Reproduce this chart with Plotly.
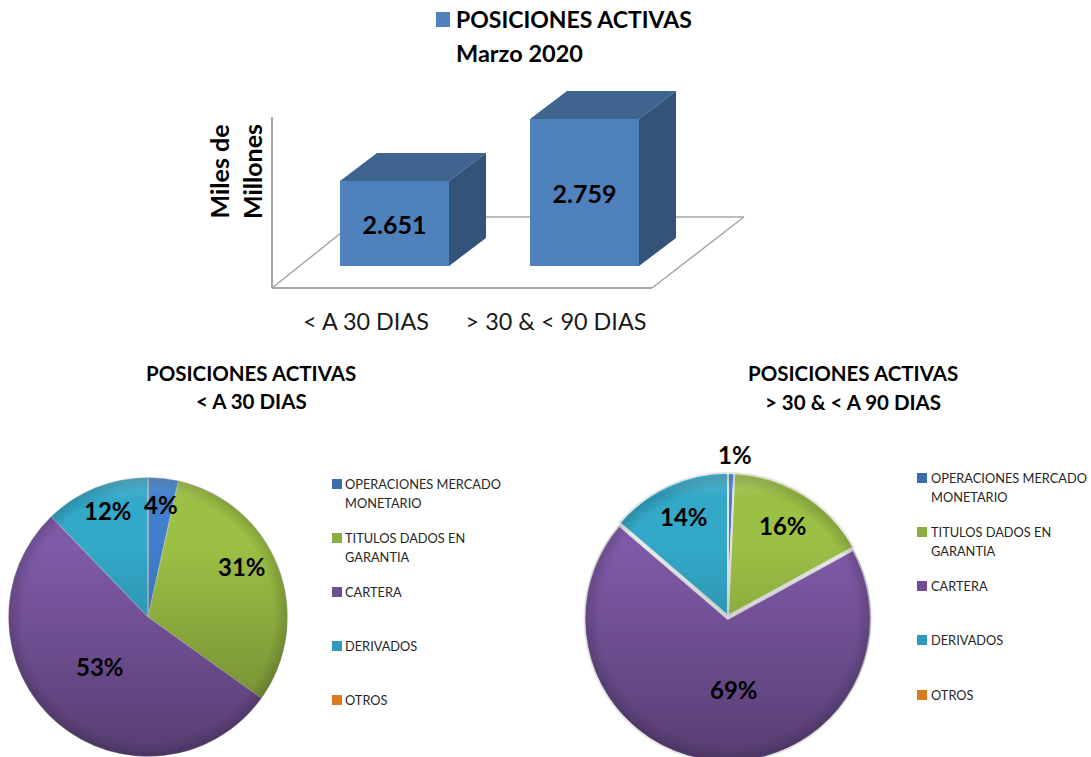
import base64
import plotly.graph_objects as go

# ---------- data ----------
bar_categories = ["< A 30 DIAS", "> 30 & < 90 DIAS"]
bar_values = [2651, 2759]
slice_labels = ["OPERACIONES MERCADO MONETARIO", "TITULOS DADOS EN GARANTIA", "CARTERA", "DERIVADOS", "OTROS"]
left_values = [3.5, 31.4, 52.9, 12.2, 0]
right_values = [0.7, 16.3, 69.3, 13.7, 0]
slice_colors = ["#3F7FCB", "#9CBF45", "#7F5AA8", "#33A8C8", "#E5801F"]
legend_colors = ["#3B6EA8", "#8BAE40", "#6F4E96", "#2F9BBA", "#DC7A20"]
legend_lines = [["OPERACIONES MERCADO", "MONETARIO"], ["TITULOS DADOS EN", "GARANTIA"], ["CARTERA"], ["DERIVADOS"], ["OTROS"]]

W, H = 1091, 770
FONT = "Lato"
px = lambda x: x / W
py = lambda y: 1 - y / H

fig = go.Figure()

# ---------- 3D-looking bar chart ----------
unit_x = 1 / 190          # category units per pixel
unit_y = 108 / 62         # value units per pixel
base_value = bar_values[0] - 85 * unit_y
bar_width = 109 * unit_x
depth_x, depth_y = 37 * unit_x, 28 * unit_y
FRONT, TOP, SIDE = "#4F81BD", "#3F6490", "#335379"

for i, v in enumerate(bar_values):
    l, r = i - bar_width / 2, i + bar_width / 2
    fig.add_trace(go.Scatter(x=[l, r, r + depth_x, l + depth_x, l], y=[v, v, v + depth_y, v + depth_y, v],
                             fill="toself", fillcolor=TOP, mode="none", hoverinfo="skip", showlegend=False))
    fig.add_trace(go.Scatter(x=[r, r + depth_x, r + depth_x, r, r],
                             y=[base_value, base_value + depth_y, v + depth_y, v, base_value],
                             fill="toself", fillcolor=SIDE, mode="none", hoverinfo="skip", showlegend=False))

fig.add_trace(go.Bar(x=[0, 1], y=[v - base_value for v in bar_values], base=base_value, width=bar_width,
                     marker=dict(color=FRONT, line=dict(width=0)),
                     text=[f"{v:,}".replace(",", ".") for v in bar_values], textposition="inside",
                     insidetextanchor="middle", constraintext="none", textangle=0,
                     textfont=dict(family=FONT, size=25, color="black", weight="bold"),
                     hoverinfo="skip", showlegend=False))

ax_left, ax_right, ax_bottom, ax_top = 270, 760, 288, 85
fig.update_xaxes(domain=[px(ax_left), px(ax_right)],
                 range=[(ax_left - 394.5) * unit_x, (ax_right - 394.5) * unit_x],
                 tickvals=[i - 28.5 * unit_x for i in range(len(bar_categories))], ticktext=bar_categories,
                 ticks="outside", ticklen=13, tickcolor="rgba(0,0,0,0)", showgrid=False, zeroline=False,
                 showline=False, tickfont=dict(family=FONT, size=23.4, color="#1a1a1a"))
fig.update_yaxes(domain=[py(ax_bottom), py(ax_top)],
                 range=[base_value - 22 * unit_y, base_value + (266 - ax_top) * unit_y],
                 visible=False)

GREY = "#A6A6A6"
shapes = [
    dict(type="line", x0=px(272), x1=px(652), y0=py(288), y1=py(288), xref="paper", yref="paper", line=dict(color=GREY, width=2), layer="below"),
    dict(type="line", x0=px(652), x1=px(744), y0=py(288), y1=py(217), xref="paper", yref="paper", line=dict(color=GREY, width=1.5), layer="below"),
    dict(type="line", x0=px(744), x1=px(361), y0=py(217), y1=py(217), xref="paper", yref="paper", line=dict(color=GREY, width=1.5), layer="below"),
    dict(type="line", x0=px(272), x1=px(361), y0=py(288), y1=py(217), xref="paper", yref="paper", line=dict(color=GREY, width=1.5), layer="below"),
    dict(type="line", x0=px(272), x1=px(272), y0=py(288), y1=py(117), xref="paper", yref="paper", line=dict(color=GREY, width=2), layer="below"),
    dict(type="rect", x0=px(436), x1=px(450), y0=py(27), y1=py(12), xref="paper", yref="paper", fillcolor=FRONT, line=dict(width=0)),
]

# ---------- pies ----------
def pie(values, x0, x1, y0, y1, pull, line_w, line_c):
    fig.add_trace(go.Pie(values=values, labels=slice_labels, sort=False, direction="clockwise", rotation=0,
                         domain=dict(x=[px(x0), px(x1)], y=[py(y1), py(y0)]),
                         marker=dict(colors=slice_colors, line=dict(color=line_c, width=line_w)),
                         pull=pull, textinfo="none", hoverinfo="skip", showlegend=False))

pie(left_values, 8.5, 287.5, 477.5, 756.5, 0, 0.5, "#C8C8C8")
pie(right_values, 582, 874, 470, 762, [0, 0, 0.02, 0, 0], 2, "#E4E4E4")

# soft shading over each pie
svg = ('<svg xmlns="http://www.w3.org/2000/svg" width="400" height="400" viewBox="0 0 400 400"><defs>'
       '<linearGradient id="a" x1="0" y1="0" x2="0" y2="1">'
       '<stop offset="0" stop-color="#fff" stop-opacity=".18"/><stop offset=".08" stop-color="#fff" stop-opacity="0"/>'
       '<stop offset=".25" stop-color="#000" stop-opacity="0"/><stop offset="1" stop-color="#000" stop-opacity=".32"/></linearGradient>'
       '<radialGradient id="b" cx=".5" cy=".5" r=".5"><stop offset=".9" stop-color="#000" stop-opacity="0"/>'
       '<stop offset="1" stop-color="#000" stop-opacity=".16"/></radialGradient></defs>'
       '<circle cx="200" cy="200" r="200" fill="url(#a)"/><circle cx="200" cy="200" r="200" fill="url(#b)"/></svg>')
shade = "data:image/svg+xml;base64," + base64.b64encode(svg.encode()).decode()
images = [
    dict(source=shade, xref="paper", yref="paper", x=px(8.5), y=py(477.5), sizex=279 / W, sizey=279 / H,
         xanchor="left", yanchor="top", sizing="stretch", layer="above"),
    dict(source=shade, xref="paper", yref="paper", x=px(585), y=py(475), sizex=286 / W, sizey=286 / H,
         xanchor="left", yanchor="top", sizing="stretch", layer="above"),
]

# ---------- texts ----------
ann = []
def text(x, y, s, size, bold=False, anchor="center", color="black", angle=0):
    ann.append(dict(x=px(x), y=py(y), xref="paper", yref="paper", text=s, showarrow=False, xanchor=anchor,
                    yanchor="middle", textangle=angle, align="center",
                    font=dict(family=FONT, size=size, color=color, weight="bold" if bold else "normal")))

text(454, 19, "POSICIONES ACTIVAS", 23, True, "left")
text(454, 53, "Marzo 2020", 23.5, True, "left")
text(236, 172, "Miles de<br>Millones", 25, True, angle=-90)
text(251, 373, "POSICIONES ACTIVAS", 20.5, True)
text(251, 401, bar_categories[0], 20.5, True)
text(853, 373, "POSICIONES ACTIVAS", 20.5, True)
text(853, 402, "> 30 & < A 90 DIAS", 20.5, True)

def pct(values, positions):
    for v, (x, y) in zip(values, positions):
        text(x, y, f"{round(v)}%", 24, True)
pct(left_values, [(161, 504), (242, 566), (100, 666), (108, 510)])
pct(right_values, [(735, 454), (783, 525), (734, 689), (684, 516)])

def legend(square_x, text_x, ys):
    for lines, col, row in zip(legend_lines, legend_colors, ys):
        shapes.append(dict(type="rect", x0=px(square_x), x1=px(square_x + 10), y0=py(row + 5), y1=py(row - 5),
                           xref="paper", yref="paper", fillcolor=col, line=dict(width=0)))
        for j, line in enumerate(lines):
            text(text_x, row + j * 19, line, 12.8, False, "left", "#262626")
legend(332, 343, [484, 538, 592, 646, 700])
legend(917, 929, [478, 532, 586, 640, 695])

fig.update_layout(width=W, height=H, margin=dict(l=0, r=0, t=0, b=0), paper_bgcolor="white", plot_bgcolor="rgba(0,0,0,0)",
                  shapes=shapes, annotations=ann, images=images, showlegend=False, bargap=0)

fig.write_html("out.html", config=dict(displayModeBar=False),
               post_script="document.documentElement.style.overflow='hidden';document.body.style.overflow='hidden';document.body.style.margin='0';")
